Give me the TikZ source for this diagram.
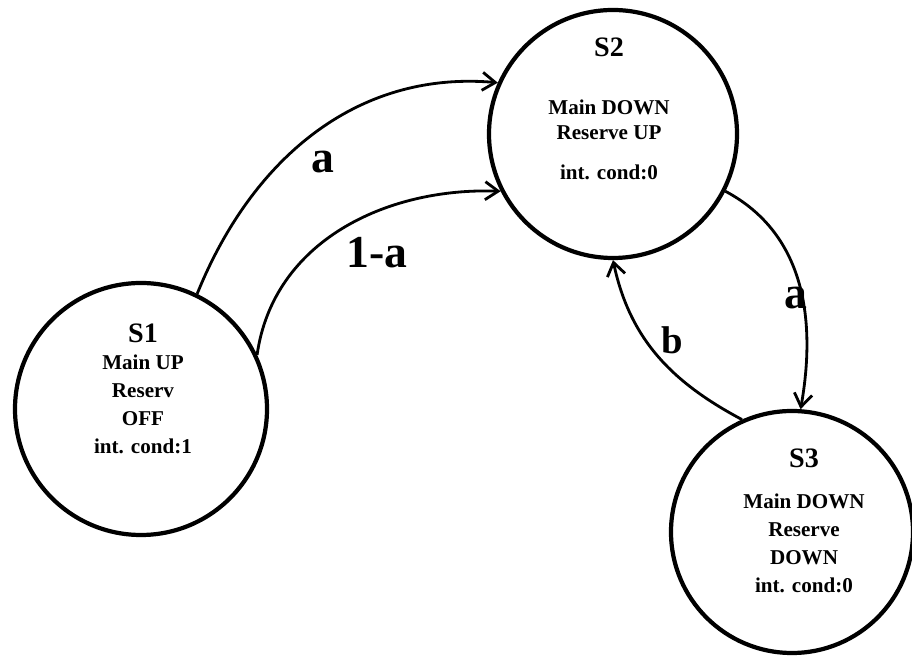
\documentclass[tikz,border=0pt]{standalone}
\usepackage{fontspec}
\setmainfont{Liberation Serif}
\usetikzlibrary{arrows.meta}
\begin{document}
\begin{tikzpicture}[>={Straight Barb[length=2.6mm,width=3.6mm]}, line width=1.6pt,
    state/.style={circle, draw, line width=2.4pt, inner sep=0pt},
    title/.style={font=\bfseries\fontsize{16}{16}\selectfont},
    body/.style={align=center, font=\bfseries\fontsize{12}{16}\selectfont},
    lbl/.style={font=\bfseries\fontsize{26}{26}\selectfont}]
\useasboundingbox (0,0) rectangle (18.24,13.28);

\node[state, minimum size=5.04cm] (S1) at (2.82,5.10) {};
\node[state, minimum size=4.96cm] (S2) at (12.26,10.60) {};
\node[state, minimum size=4.84cm] (S3) at (15.84,2.64) {};

\node[title] (t1) at (2.86,6.62) {S1};
\node[body] (b1) at (2.86,5.19) {Main UP\\Reserv\\OFF\\int. cond:1};
\node[title] (t2) at (12.18,12.34) {S2};
\node[body, font=\bfseries\fontsize{12}{14}\selectfont] (b2) at (12.18,10.48) {Main DOWN\\Reserve UP\\[9pt]int. cond:0};
\node[title] (t3) at (16.08,4.12) {S3};
\node[body] (b3) at (16.08,2.41) {Main DOWN\\Reserve\\DOWN\\int. cond:0};

\draw[->] (S1.64) to[out=68,in=175] (S2.156);
\draw[->] (S1.25) to[out=82,in=178] (S2.207);
\draw[->] (S2.333) to[out=-28,in=80] (S3.86);
\draw[->] (S3.114) to[out=152,in=-78] (S2.270);

\node[lbl] (la) at (6.46,10.04) {a};
\node[lbl] (l1a) at (7.54,8.22) {1-a};
\node[lbl] (ra) at (15.92,7.32) {a};
\node[lbl, font=\bfseries\fontsize{22}{22}\selectfont] (lb) at (13.44,6.48) {b};
\end{tikzpicture}
\end{document}
